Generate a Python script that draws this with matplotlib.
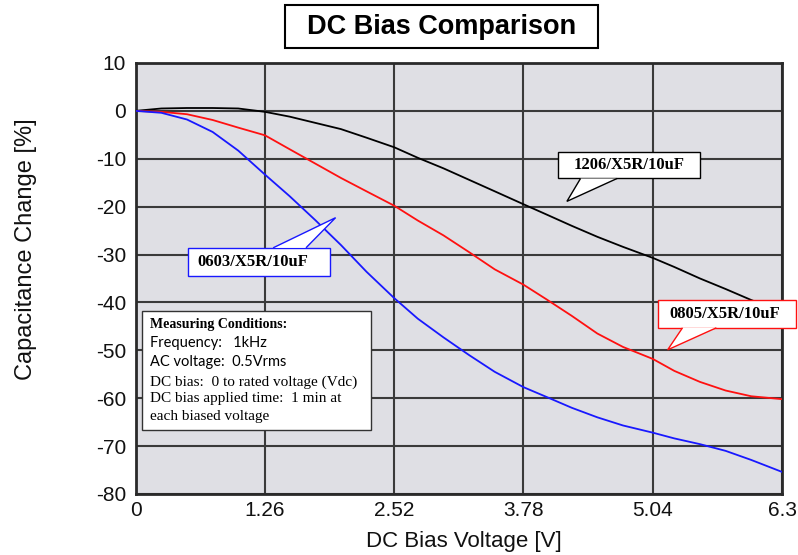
import matplotlib
matplotlib.use("Agg")
import matplotlib.pyplot as plt
from matplotlib.patches import Rectangle, Polygon

plt.rcParams["axes.unicode_minus"] = False

# ---- data ----
voltage = [0, 0.25, 0.5, 0.75, 1.0, 1.26, 1.5, 1.75, 2.0, 2.25, 2.52, 2.75, 3.0,
           3.25, 3.5, 3.78, 4.0, 4.25, 4.5, 4.75, 5.04, 5.25, 5.5, 5.75, 6.0, 6.3]
cap_1206 = [0, 0.5, 0.6, 0.6, 0.5, -0.2, -1.2, -2.5, -3.8, -5.6, -7.6, -9.8, -12.0,
            -14.4, -16.8, -19.5, -21.6, -24.0, -26.3, -28.4, -30.7, -32.6, -35.0, -37.2, -39.5, -42.0]
cap_0805 = [0, -0.2, -0.7, -1.9, -3.5, -5.1, -8.0, -11.0, -14.0, -16.8, -19.8, -22.9, -26.0,
            -29.5, -33.1, -36.3, -39.3, -42.8, -46.5, -49.3, -51.8, -54.3, -56.6, -58.4, -59.6, -60.2]
cap_0603 = [0, -0.4, -1.8, -4.4, -8.3, -13.3, -17.8, -22.8, -28.0, -33.6, -39.1, -43.4, -47.3,
            -51.0, -54.5, -57.7, -59.7, -62.0, -64.0, -65.7, -67.2, -68.4, -69.6, -71.0, -72.9, -75.4]
x_ticks = [0, 1.26, 2.52, 3.78, 5.04, 6.3]
x_tick_labels = ["0", "1.26", "2.52", "3.78", "5.04", "6.3"]
y_ticks = [10, 0, -10, -20, -30, -40, -50, -60, -70, -80]
series_labels = ["1206/X5R/10uF", "0805/X5R/10uF", "0603/X5R/10uF"]
conditions = ["Frequency:   1kHz", "AC voltage:  0.5Vrms", "DC bias:  0 to rated voltage (Vdc)",
              "DC bias applied time:  1 min at", "each biased voltage"]

SANS = ["Liberation Sans", "DejaVu Sans"]
SERIF = ["Liberation Serif", "DejaVu Serif"]

fig = plt.figure(figsize=(7.98, 5.55), dpi=100)
ax = fig.add_axes([0.170, 0.110, 0.810, 0.7765])
ax.set_facecolor("#dfdfe4")
ax.set_xlim(0, 6.3)
ax.set_ylim(-80, 10)
ax.set_xticks(x_ticks)
ax.set_xticklabels(x_tick_labels)
ax.set_yticks(y_ticks)
ax.tick_params(length=0, pad=7, labelsize=15, colors="#111111")
ax.tick_params(axis="x", pad=5)
for lab in ax.get_xticklabels() + ax.get_yticklabels():
    lab.set_family(SANS)
ax.grid(True, color="#3a3a3a", linewidth=1.5, zorder=1)
ax.set_axisbelow(True)
for sp in ax.spines.values():
    sp.set_color("#2a2a2a")
    sp.set_linewidth(2)
ax.set_xlabel("DC Bias Voltage [V]", family=SANS, fontsize=16, color="#111111")
ax.set_ylabel("Capacitance Change [%]", family=SANS, fontsize=17, color="#111111")
ax.xaxis.set_label_coords(0.508, -0.086)
ax.yaxis.set_label_coords(-0.153, 0.568)

ax.plot(voltage, cap_1206, color="black", lw=1.3, zorder=3)
ax.plot(voltage, cap_0805, color="#ff1010", lw=1.3, zorder=3)
ax.plot(voltage, cap_0603, color="#1818ff", lw=1.3, zorder=3)


def callout(x0, x1, y0, y1, base_a, base_b, base_y, tip, color, text, tx, ty):
    rect = Rectangle((x0, y0), x1 - x0, y1 - y0, facecolor="white", edgecolor=color,
                     lw=1.0, zorder=5, clip_on=False)
    ax.add_patch(rect)
    poly = Polygon([(base_a, base_y), tip, (base_b, base_y)], closed=False,
                   facecolor="none", edgecolor=color, lw=1.0, zorder=6, clip_on=False)
    ax.add_patch(poly)
    cover = Polygon([(base_a, base_y), tip, (base_b, base_y)], closed=True,
                    facecolor="white", edgecolor="none", zorder=5.5, clip_on=False)
    ax.add_patch(cover)
    ax.text(tx, ty, text, family=SERIF, weight="bold", fontsize=12, ha="center",
            va="center", zorder=7, clip_on=False)


callout(4.116, 5.496, -14.12, -8.68, 4.336, 4.692, -14.12, (4.203, -18.9), "black",
        series_labels[0], 4.806, -11.4)
callout(5.087, 6.44, -45.3, -39.4, 5.33, 5.66, -45.3, (5.185, -49.9), "#ff1010",
        series_labels[1], 5.74, -42.4)
callout(0.51, 1.89, -34.4, -28.6, 1.34, 1.66, -28.6, (1.949, -22.3), "#1818ff",
        series_labels[2], 1.14, -31.6)

# measuring conditions box
ax.add_patch(Rectangle((0.063, -66.6), 2.29 - 0.063, 24.9, facecolor="white",
                       edgecolor="#333333", lw=1.0, zorder=5))
ax.text(0.14, -44.7, "Measuring Conditions:", family=SERIF, weight="bold", fontsize=10,
        va="center", ha="left", zorder=7)
line_y = [-48.4, -52.4, -56.6, -60.1, -63.9]
fams = [["Lato", "DejaVu Sans"], ["Lato", "DejaVu Sans"], SERIF, SERIF, SERIF]
sizes = [10.5, 10.5, 11, 11, 11]
for s, yy, fm, fs in zip(conditions, line_y, fams, sizes):
    ax.text(0.14, yy, s, family=fm, fontsize=fs, va="center", ha="left", zorder=7)

# title box
fig.patches.append(Rectangle((285 / 798, 1 - 48 / 555), 313 / 798, 43 / 555,
                             transform=fig.transFigure, facecolor="white",
                             edgecolor="black", lw=1.5, zorder=1))
fig.text(442 / 798, 1 - 27 / 555, "DC Bias Comparison", family=SANS, weight="bold",
         fontsize=19.5, ha="center", va="center", zorder=2)

fig.savefig("out.png", dpi=100)
